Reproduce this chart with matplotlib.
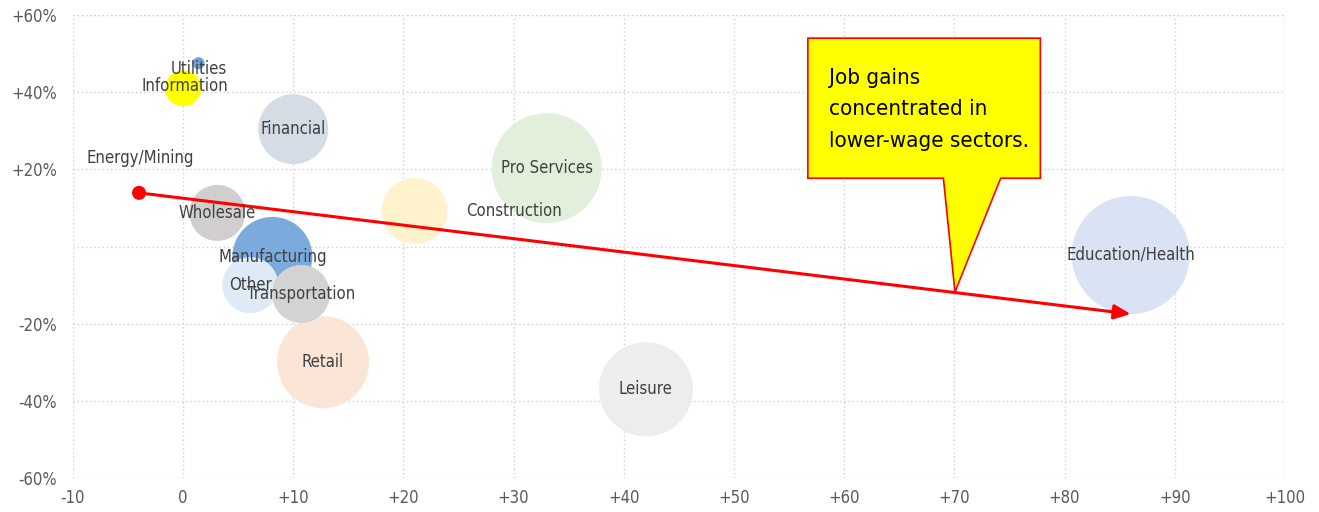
import numpy as np
import matplotlib.pyplot as plt
from matplotlib.patches import Polygon

plt.rcParams['font.family'] = ['DejaVu Sans']
plt.rcParams['font.stretch'] = 'condensed'

# sectors: wage growth (x) vs job change (y, %), bubble radius in pixels
sectors = ['Utilities', 'Information', 'Financial', 'Energy/Mining', 'Wholesale',
           'Manufacturing', 'Other', 'Transportation', 'Retail', 'Construction',
           'Pro Services', 'Leisure', 'Education/Health']
x_vals = [1.4, 0.0, 10.0, -4.0, 3.1, 8.1, 6.1, 10.7, 12.7, 21.0, 33.0, 42.0, 86.0]
y_vals = [47.5, 41.0, 30.4, 13.9, 8.7, -2.7, -10.0, -12.3, -30.0, 9.2, 20.3, -37.0, -2.2]
radius = [6, 18, 35, 7, 28, 40, 28, 29, 46, 33, 55, 47, 59]
colors = ['#6fa0d8', '#ffff00', '#d6dce5', '#ff0000', '#d0cece', '#7aabdc',
          '#deebf7', '#d3d3d3', '#fbe5d6', '#fff2cc', '#e2efda', '#ededed', '#dae3f3']
# labels that sit away from their bubble
label_pos = {'Utilities': (1.4, 46.0), 'Information': (0.2, 41.5),
             'Energy/Mining': (-3.9, 23.0), 'Construction': (30.0, 9.2)}

xticks = list(range(-10, 101, 10))
xtick_labels = ['-10', '0'] + ['+%d' % v for v in range(10, 101, 10)]
yticks = [-60, -40, -20, 0, 20, 40, 60]
ytick_labels = ['-60%', '-40%', '-20%', '', '+20%', '+40%', '+60%']

arrow_start = (-4.0, 13.9)
arrow_end = (86.0, -17.5)

callout_text = 'Job gains\nconcentrated in\nlower-wage sectors.'
callout_box = [(56.7, 54.0), (77.8, 54.0), (77.8, 17.7), (74.2, 17.7),
               (70.05, -11.8), (69.0, 17.7), (56.7, 17.7)]

fig = plt.figure(figsize=(13.19, 5.12), dpi=100)
ax = fig.add_axes([0.0553, 0.0664, 0.9189, 0.9043])

sizes = [(1.44 * r) ** 2 for r in radius]
order = [11, 10, 8, 9, 12, 2, 4, 5, 6, 7, 1, 0, 3]
for i in order:
    ax.scatter(x_vals[i], y_vals[i], s=sizes[i], color=colors[i],
               edgecolors='none', zorder=2)

for i, name in enumerate(sectors):
    lx, ly = label_pos.get(name, (x_vals[i], y_vals[i]))
    ax.text(lx, ly, name, ha='center', va='center', fontsize=12,
            color='#404040', zorder=4)

ax.annotate('', xy=arrow_end, xytext=arrow_start,
            arrowprops=dict(arrowstyle='-|>,head_length=0.5,head_width=0.22',
                            color='#ff0000', lw=2.2,
                            mutation_scale=20, shrinkA=0, shrinkB=0),
            zorder=3)

ax.add_patch(Polygon(callout_box, closed=True, facecolor='#ffff00',
                     edgecolor='#ff0000', lw=1.2, zorder=5))
ax.text(58.6, 46.2, callout_text, ha='left', va='top', fontsize=16,
        color='black', linespacing=1.7, zorder=6)

ax.set_xlim(-10, 100)
ax.set_ylim(-60, 60)
ax.set_xticks(xticks)
ax.set_xticklabels(xtick_labels)
ax.set_yticks(yticks)
ax.set_yticklabels(ytick_labels)
ax.tick_params(axis='x', length=0, labelsize=12, labelcolor='#595959', pad=8)
ax.tick_params(axis='y', length=0, labelsize=12, labelcolor='#595959', pad=11.5)
ax.grid(True, linestyle=(0, (1, 2)), color='#d0d0d0', lw=1)
ax.set_axisbelow(True)
for s in ax.spines.values():
    s.set_visible(False)
ax.axvline(100, linestyle=(0, (1, 2)), color='#d0d0d0', lw=1, zorder=0)
ax.axhline(60, linestyle=(0, (1, 2)), color='#d0d0d0', lw=1, zorder=0)

fig.savefig('out.png', dpi=100)
